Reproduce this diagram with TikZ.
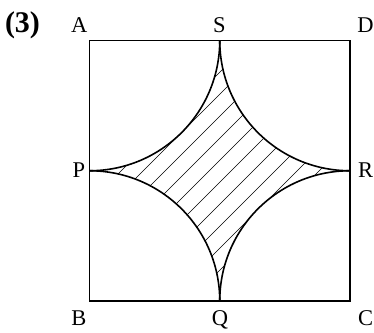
\documentclass[tikz,border=0pt]{standalone}
\usepackage{fontspec}
\setmainfont{Liberation Serif}
\begin{document}
\begin{tikzpicture}[x=1pt,y=1pt,
  lbl/.style={anchor=base,inner sep=0pt,font=\fontsize{22.5}{26}\selectfont},
  sq/.style={line width=1.3pt},
  arcline/.style={line width=1.6pt},
  hatch/.style={line width=0.55pt}]
\useasboundingbox (0,0) rectangle (374,332);
\def\r{130.25}
\coordinate (A) at (89.5,291.5);
\coordinate (D) at (350,291.5);
\coordinate (B) at (89.5,31);
\coordinate (C) at (350,31);
\coordinate (S) at (219.75,291.5);
\coordinate (R) at (350,161.25);
\coordinate (Q) at (219.75,31);
\coordinate (P) at (89.5,161.25);
% hatching
\begin{scope}
\clip (S) arc[start angle=0,end angle=-90,radius=\r]
          arc[start angle=90,end angle=0,radius=\r]
          arc[start angle=180,end angle=90,radius=\r]
          arc[start angle=270,end angle=180,radius=\r] -- cycle;
\foreach \c in {-40,-18,...,158} {
  \draw[hatch] (\c,0) -- ({\c+332},332);
}
\end{scope}
\draw[sq] (A) rectangle (C);
\draw[arcline] (S) arc[start angle=0,end angle=-90,radius=\r];
\draw[arcline] (P) arc[start angle=90,end angle=0,radius=\r];
\draw[arcline] (Q) arc[start angle=180,end angle=90,radius=\r];
\draw[arcline] (R) arc[start angle=270,end angle=180,radius=\r];
% labels
\node[lbl] (lA) at (79.2,299.3) {A};
\node[lbl] (lS) at (219.5,299.3) {S};
\node[lbl] (lD) at (365.5,299.3) {D};
\node[lbl] (lP) at (79,154.3) {P};
\node[lbl] (lR) at (365.5,154.3) {R};
\node[lbl] (lB) at (79,7) {B};
\node[lbl] (lQ) at (220,7) {Q};
\node[lbl] (lC) at (365.5,7) {C};
\node[anchor=base,inner sep=0pt,font=\fontsize{30}{34}\selectfont\bfseries] (num) at (22.5,299) {(3)};
\end{tikzpicture}
\end{document}
